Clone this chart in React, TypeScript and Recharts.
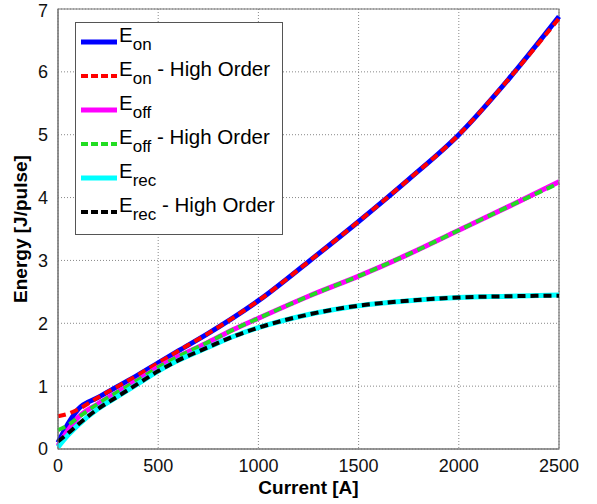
import React from "react";
import { LineChart, Line, XAxis, YAxis, CartesianGrid, Legend, ReferenceArea } from "recharts";

// current [A]
const currents = [0, 50, 100, 200, 300, 400, 500, 600, 750, 875, 1000, 1250, 1500, 1750, 2000, 2250, 2500];

// energies [J/pulse]
const eOn = [0.1, 0.4, 0.63, 0.82, 1.0, 1.18, 1.37, 1.56, 1.84, 2.09, 2.36, 2.98, 3.62, 4.29, 5.0, 5.89, 6.88];
const eOnHigh = [0.52, 0.56, 0.63, 0.82, 1.0, 1.18, 1.37, 1.56, 1.84, 2.09, 2.36, 2.98, 3.62, 4.29, 5.0, 5.89, 6.85];
const eOff = [0.05, 0.3, 0.5, 0.72, 0.91, 1.1, 1.3, 1.47, 1.7, 1.9, 2.08, 2.43, 2.75, 3.1, 3.48, 3.86, 4.25];
const eOffHigh = [0.3, 0.38, 0.5, 0.72, 0.91, 1.1, 1.3, 1.47, 1.7, 1.9, 2.08, 2.43, 2.75, 3.1, 3.48, 3.86, 4.23];
const eRec = [0.03, 0.22, 0.38, 0.64, 0.84, 1.04, 1.24, 1.41, 1.62, 1.79, 1.93, 2.14, 2.28, 2.36, 2.41, 2.43, 2.45];
const eRecHigh = [0.12, 0.25, 0.39, 0.64, 0.84, 1.04, 1.24, 1.41, 1.62, 1.79, 1.93, 2.14, 2.28, 2.36, 2.41, 2.43, 2.44];

const xTicks = [0, 500, 1000, 1500, 2000, 2500];
const yTicks = [0, 1, 2, 3, 4, 5, 6, 7];

const data = currents.map((c, i) => ({
  current: c,
  eOn: eOn[i],
  eOnHigh: eOnHigh[i],
  eOff: eOff[i],
  eOffHigh: eOffHigh[i],
  eRec: eRec[i],
  eRecHigh: eRecHigh[i],
}));

const series = [
  { key: "eOn", sub: "on", suffix: "", color: "#0000ff", dashed: false },
  { key: "eOnHigh", sub: "on", suffix: " - High Order", color: "#ff0000", dashed: true },
  { key: "eOff", sub: "off", suffix: "", color: "#ff00ff", dashed: false },
  { key: "eOffHigh", sub: "off", suffix: " - High Order", color: "#22dd22", dashed: true },
  { key: "eRec", sub: "rec", suffix: "", color: "#00ffff", dashed: false },
  { key: "eRecHigh", sub: "rec", suffix: " - High Order", color: "#000000", dashed: true },
];

const FONT = "'Liberation Sans', Arial, sans-serif";

const LegendBox = () => (
  <div
    style={{
      width: 206,
      height: 211,
      border: "1px solid #555",
      background: "#fff",
      fontFamily: FONT,
      color: "#000",
      boxSizing: "content-box",
    }}
  >
    {series.map((s, i) => (
      <div key={s.key} style={{ position: "absolute", left: 6, top: 5 + i * 34, height: 30, display: "flex", alignItems: "center" }}>
        <svg width={38} height={10}>
          <line
            x1={0}
            x2={36}
            y1={5}
            y2={5}
            stroke={s.color}
            strokeWidth={s.dashed ? 4 : 5}
            strokeDasharray={s.dashed ? "7 3" : undefined}
          />
        </svg>
        <span style={{ fontSize: 20.5, lineHeight: "20px", marginTop: -4, whiteSpace: "nowrap" }}>
          E<sub style={{ fontSize: 17, verticalAlign: "-8px" }}>{s.sub}</sub>
          {s.suffix}
        </span>
      </div>
    ))}
  </div>
);

export default function App() {
  return (
    <div style={{ position: "fixed", left: 0, top: 0, width: 597, height: 504, background: "#fff" }}>
      <LineChart width={597} height={504} data={data} margin={{ top: 9, right: 38, bottom: 25, left: 8 }}>
        <CartesianGrid stroke="#888" strokeDasharray="1 2" horizontalValues={yTicks} verticalValues={xTicks} />
        <ReferenceArea x1={0} x2={2500} y1={0} y2={7} fill="none" stroke="#777" strokeWidth={1.2} />
        <XAxis
          dataKey="current"
          type="number"
          domain={[0, 2500]}
          ticks={xTicks}
          height={30}
          tickLine={false}
          axisLine={{ stroke: "#777" }}
          tick={{ fill: "#111", fontSize: 18, fontFamily: FONT }}
          tickMargin={4}
          label={{ value: "Current [A]", position: "insideBottom", offset: -15, fill: "#000", fontSize: 19, fontWeight: "bold", fontFamily: FONT }}
        />
        <YAxis
          type="number"
          domain={[0, 7]}
          ticks={yTicks}
          width={50}
          tickLine={false}
          axisLine={{ stroke: "#777" }}
          tick={{ fill: "#111", fontSize: 18, fontFamily: FONT }}
          tickMargin={4}
          label={{ value: "Energy [J/pulse]", angle: -90, position: "insideLeft", offset: 12, fill: "#000", fontSize: 19, fontWeight: "bold", fontFamily: FONT, style: { textAnchor: "middle" } }}
        />
        {series.map((s) => (
          <Line
            key={s.key}
            dataKey={s.key}
            type="monotone"
            stroke={s.color}
            strokeWidth={s.dashed ? 4 : 5}
            strokeDasharray={s.dashed ? "8 5" : undefined}
            dot={false}
            activeDot={false}
            isAnimationActive={false}
          />
        ))}
        <Legend
          layout="vertical"
          align="center"
          verticalAlign="middle"
          content={() => <LegendBox />}
          wrapperStyle={{ left: 75, top: 22, width: 208, height: 213 }}
        />
      </LineChart>
    </div>
  );
}
